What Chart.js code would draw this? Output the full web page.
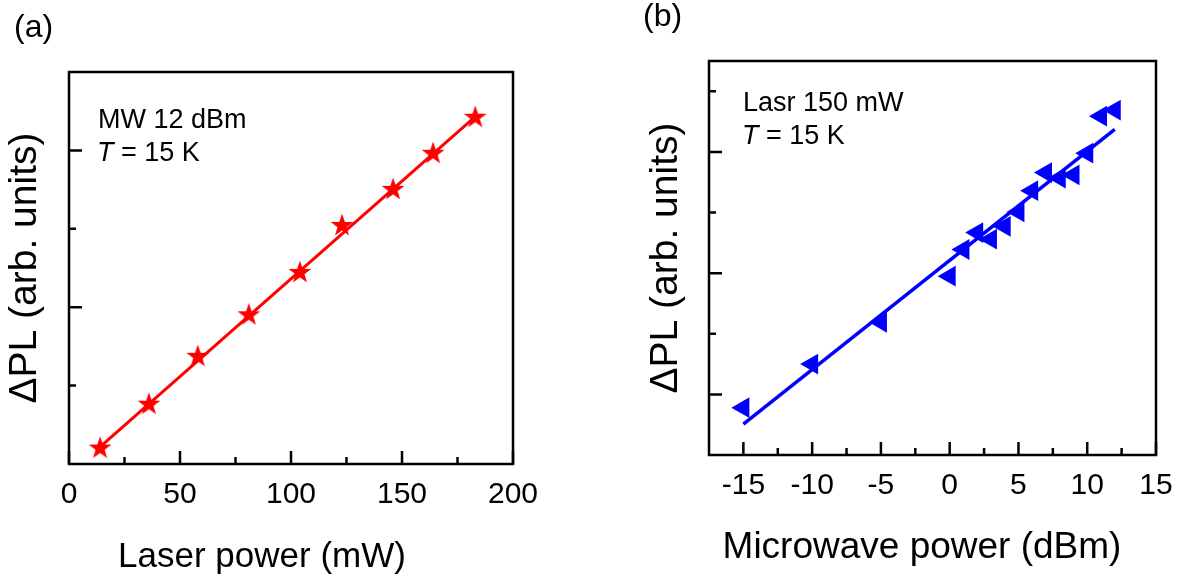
<!DOCTYPE html>
<html>
<head>
<meta charset="utf-8">
<script src="https://cdn.jsdelivr.net/npm/chart.js@4.4.1/dist/chart.umd.min.js"></script>
<style>
  body { margin: 0; background: #fff; }
  #wrap { position: relative; width: 1199px; height: 578px; overflow: hidden; }
  canvas { position: absolute; top: 0; }
  #chartA { left: 0; }
  #chartB { left: 600px; }
</style>
</head>
<body>
<div id="wrap">
  <canvas id="chartA" width="600" height="578"></canvas>
  <canvas id="chartB" width="599" height="578"></canvas>
</div>
<script>
// (a) dPL vs laser power, MW at 12 dBm
const laserPower = [14, 36, 58, 81, 104, 123, 146, 164, 183];
const dplLaser = [0.21, 0.77, 1.38, 1.91, 2.45, 3.05, 3.51, 3.97, 4.43];
const laserFitX = [14, 183];
const laserFitY = [0.22, 4.43];
const laserTicks = [0, 50, 100, 150, 200];
const laserMinor = [25, 75, 125, 175];
const dplLaserMajor = [2, 4];
const dplLaserMinor = [1, 3];

// (b) dPL vs microwave power, laser at 150 mW
const mwPower = [-15, -10, -5, 0, 1, 2, 3, 4, 5, 6, 7, 8, 9, 10, 11, 12];
const dplMw = [0.78, 1.50, 2.19, 2.95, 3.39, 3.67, 3.56, 3.77, 4.01, 4.36, 4.66, 4.57, 4.62, 4.98, 5.59, 5.69];
const mwFitX = [-15, 12];
const mwFitY = [0.51, 5.37];
const mwTicks = [-15, -10, -5, 0, 5, 10, 15];
const mwMinor = [-12.5, -7.5, -2.5, 2.5, 7.5, 12.5];
const dplMwMajor = [1, 3, 5];
const dplMwMinor = [2, 4, 6];

const FONT = "'Liberation Sans', Arial, sans-serif";
Chart.defaults.font.family = FONT;
Chart.defaults.color = '#000';

// filled five-point star used as the marker in (a)
function makeStar(size, color) {
  const c = document.createElement('canvas');
  c.width = size; c.height = size;
  const g = c.getContext('2d');
  const R = size / 2, r = R * 0.4;
  g.fillStyle = color;
  g.beginPath();
  for (let i = 0; i < 10; i++) {
    const rad = i % 2 ? r : R;
    const a = -Math.PI / 2 + i * Math.PI / 5;
    const px = R + rad * Math.cos(a), py = R + rad * Math.sin(a) + 0.8;
    i ? g.lineTo(px, py) : g.moveTo(px, py);
  }
  g.closePath();
  g.fill();
  return c;
}

const toXY = (xs, ys) => xs.map((x, i) => ({ x: x, y: ys[i] }));

// frame, inward ticks and free text
const panelDecor = {
  id: 'panelDecor',
  afterDraw(chart, args, opts) {
    const ctx = chart.ctx;
    const a = chart.chartArea;
    const sx = chart.scales.x, sy = chart.scales.y;
    ctx.save();
    ctx.strokeStyle = '#000';
    ctx.lineWidth = 2.5;
    ctx.beginPath();
    const xt = (vals, len) => vals.forEach(v => {
      const p = sx.getPixelForValue(v);
      ctx.moveTo(p, a.bottom); ctx.lineTo(p, a.bottom - len);
    });
    const yt = (vals, len) => vals.forEach(v => {
      const p = sy.getPixelForValue(v);
      ctx.moveTo(a.left, p); ctx.lineTo(a.left + len, p);
    });
    xt(opts.xMajor, 13); xt(opts.xMinor, 7);
    yt(opts.yMajor, 13); yt(opts.yMinor, 7);
    ctx.stroke();
    ctx.strokeRect(a.left, a.top, a.right - a.left, a.bottom - a.top);

    ctx.fillStyle = '#000';
    ctx.textBaseline = 'alphabetic';
    opts.texts.forEach(t => {
      const parts = t.parts || [{ s: t.text }];
      const fontOf = p => (p.italic ? 'italic ' : '') + t.size + 'px ' + FONT;
      let x = t.x;
      if (t.align === 'center') {
        let w = 0;
        parts.forEach(p => { ctx.font = fontOf(p); w += ctx.measureText(p.s).width; });
        x -= w / 2;
      }
      ctx.textAlign = 'left';
      parts.forEach(p => {
        ctx.font = fontOf(p);
        ctx.fillText(p.s, x, t.y);
        x += ctx.measureText(p.s).width;
      });
    });
    ctx.restore();
  }
};

function panel(id, cfg) {
  return new Chart(document.getElementById(id), {
    type: 'scatter',
    data: {
      datasets: [
        Object.assign({ data: toXY(cfg.x, cfg.y), showLine: false, borderWidth: 0 }, cfg.marker),
        {
          type: 'line',
          data: toXY(cfg.fitX, cfg.fitY),
          borderColor: cfg.color,
          borderWidth: cfg.lineWidth,
          pointRadius: 0,
          fill: false,
          tension: 0
        }
      ]
    },
    options: {
      responsive: false,
      animation: false,
      events: [],
      layout: { padding: cfg.padding },
      plugins: {
        legend: { display: false },
        tooltip: { enabled: false },
        panelDecor: {
          xMajor: cfg.xTicks, xMinor: cfg.xMinor,
          yMajor: cfg.yMajor, yMinor: cfg.yMinor,
          texts: cfg.texts
        }
      },
      scales: {
        x: {
          type: 'linear',
          min: cfg.xMin, max: cfg.xMax,
          afterBuildTicks: s => { s.ticks = cfg.xTicks.map(v => ({ value: v })); },
          afterFit: s => { s.height = cfg.xHeight; },
          grid: { display: false, drawTicks: false },
          border: { display: false },
          ticks: { font: { size: 30 }, padding: 13, maxRotation: 0, autoSkip: false }
        },
        y: {
          type: 'linear',
          min: cfg.yMin, max: cfg.yMax,
          afterFit: s => { s.width = cfg.yWidth; },
          grid: { display: false, drawTicks: false },
          border: { display: false },
          ticks: { display: false },
          title: {
            display: true,
            text: 'ΔPL (arb. units)',
            font: { size: 39 },
            padding: { top: cfg.yTitlePad, bottom: 0 }
          }
        }
      }
    },
    plugins: [panelDecor]
  });
}

panel('chartA', {
  x: laserPower, y: dplLaser, fitX: laserFitX, fitY: laserFitY,
  color: '#ff0000', lineWidth: 3,
  marker: { pointStyle: makeStar(24, '#ff0000'), pointRadius: 11, backgroundColor: '#ff0000' },
  xMin: 0, xMax: 200, yMin: 0, yMax: 5,
  xTicks: laserTicks, xMinor: laserMinor, yMajor: dplLaserMajor, yMinor: dplLaserMinor,
  padding: { top: 72, right: 87, left: 0, bottom: 0 },
  xHeight: 114, yWidth: 69, yTitlePad: 2,
  texts: [
    { text: '(a)', x: 14, y: 37, size: 32 },
    { text: 'MW 12 dBm', x: 98, y: 128, size: 27 },
    { parts: [{ s: 'T', italic: true }, { s: ' = 15 K' }], x: 97, y: 161, size: 27 },
    { text: 'Laser power (mW)', x: 262, y: 567, size: 35, align: 'center' }
  ]
});

panel('chartB', {
  x: mwPower, y: dplMw, fitX: mwFitX, fitY: mwFitY,
  color: '#0000ff', lineWidth: 3.5,
  marker: { pointStyle: 'triangle', rotation: -90, pointRadius: 12, backgroundColor: '#0000ff' },
  xMin: -17.5, xMax: 15, yMin: 0, yMax: 6.5,
  xTicks: mwTicks, xMinor: mwMinor, yMajor: dplMwMajor, yMinor: dplMwMinor,
  padding: { top: 61, right: 43, left: 0, bottom: 0 },
  xHeight: 123, yWidth: 109, yTitlePad: 43,
  texts: [
    { text: '(b)', x: 43, y: 26, size: 32 },
    { text: 'Lasr 150 mW', x: 143, y: 111, size: 27 },
    { parts: [{ s: 'T', italic: true }, { s: ' = 15 K' }], x: 142, y: 144, size: 27 },
    { text: 'Microwave power (dBm)', x: 322, y: 558, size: 37, align: 'center' }
  ]
});
</script>
</body>
</html>
